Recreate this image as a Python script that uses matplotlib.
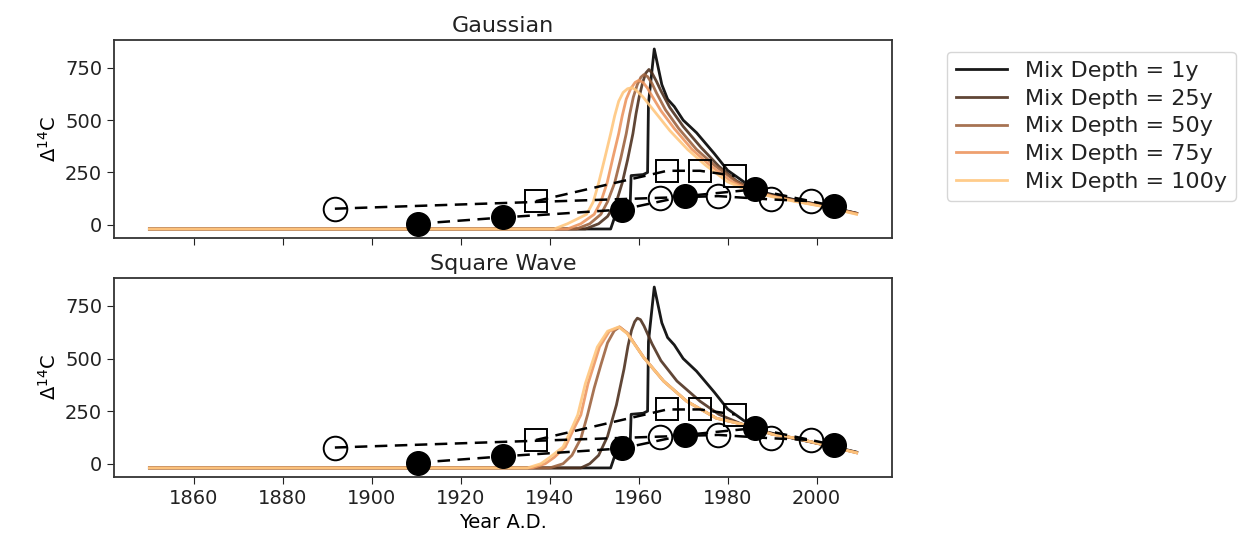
import matplotlib
matplotlib.use("Agg")
import matplotlib.pyplot as plt
import numpy as np

# ---------------- data ----------------
labels = ["Mix Depth = 1y", "Mix Depth = 25y", "Mix Depth = 50y",
          "Mix Depth = 75y", "Mix Depth = 100y"]

# 1y curve (same in both panels)
yr_1y = [1850, 1953.7, 1954.5, 1958.0, 1958.3, 1961.0, 1962.0, 1962.2, 1963.5, 1965.2,
         1966.5, 1968, 1970, 1973, 1977, 1980, 1984, 1988, 1995, 2002, 2009]
v_1y = [-20, -20, 30, 40, 235, 240, 250, 580, 840, 670,
        600, 565, 500, 440, 340, 260, 200, 155, 120, 90, 55]

# Gaussian panel
g_yr_25 = [1850, 1948, 1951, 1953, 1955, 1956.3, 1957.5, 1958.7, 1959.4, 1960.1, 1960.9,
           1961.6, 1962.3, 1963, 1964, 1965, 1967, 1970, 1974, 1978, 1982, 1986, 1990,
           1995, 2002, 2009]
g_v_25 = [-20, -20, 5, 40, 110, 200, 310, 435, 530, 610, 680,
          725, 742, 725, 685, 640, 560, 470, 370, 280, 210, 165, 140,
          118, 88, 55]
g_yr_50 = [1850, 1946, 1949, 1951.5, 1953, 1954.6, 1956, 1957.2, 1958, 1958.8, 1959.7,
           1960.5, 1961.2, 1962, 1963, 1964, 1966, 1969, 1973, 1977, 1982, 1986, 1990,
           1995, 2002, 2009]
g_v_50 = [-20, -20, 5, 50, 110, 200, 320, 435, 530, 610, 670,
          705, 718, 708, 675, 630, 550, 460, 360, 285, 205, 162, 138,
          116, 87, 54]
g_yr_75 = [1850, 1944, 1947, 1950, 1951.5, 1952.9, 1954.2, 1955.5, 1956.3, 1957.2, 1958.2,
           1959.2, 1960, 1961, 1962, 1963, 1965, 1968, 1972, 1976, 1981, 1986, 1990,
           1995, 2002, 2009]
g_v_75 = [-20, -20, 5, 50, 110, 200, 320, 435, 520, 600, 650,
          680, 690, 680, 652, 615, 545, 460, 360, 285, 205, 158, 136,
          114, 86, 52]
g_yr_100 = [1850, 1941, 1944, 1948.3, 1949.8, 1951, 1952.4, 1953.7, 1954.6, 1955.5, 1956.5,
            1957.5, 1958.5, 1959.5, 1961, 1962.5, 1964, 1967, 1971, 1975, 1980, 1985, 1990,
            1995, 2002, 2009]
g_v_100 = [-20, -20, 5, 50, 110, 200, 320, 435, 520, 590, 632,
           650, 655, 642, 610, 570, 530, 450, 360, 285, 205, 160, 134,
           112, 85, 50]

# Square-wave panel
s_yr_25 = [1850, 1947, 1949, 1951, 1953, 1955, 1956.7, 1957.6, 1958.4, 1959.1, 1959.7,
           1960.4, 1961.2, 1963, 1965, 1968.6, 1973.8, 1978, 1983, 1988, 1995, 2002, 2009]
s_v_25 = [-20, -20, 0, 40, 130, 280, 450, 560, 635, 675, 692,
          685, 655, 570, 490, 393, 297, 235, 190, 152, 120, 88, 54]
s_yr_50 = [1850, 1940, 1943, 1945, 1947, 1948.5, 1950, 1951.5, 1953, 1954.5, 1955.7,
           1957.4, 1961.1, 1965.6, 1970.8, 1977.5, 1984, 1990, 1995.4, 2002, 2009]
s_v_50 = [-20, -20, 0, 40, 120, 232, 360, 470, 575, 632, 650,
          622, 506, 393, 297, 216, 184, 140, 121, 88, 52]
s_yr_75 = [1850, 1936, 1939, 1941, 1943.5, 1945.5, 1947, 1948.6, 1951.2, 1953.4, 1955.7,
           1957.5, 1961.1, 1965.6, 1970.8, 1977.5, 1984, 1990, 1995.4, 2002, 2009]
s_v_75 = [-20, -20, 0, 30, 80, 170, 232, 380, 555, 630, 650,
          619, 506, 393, 297, 216, 184, 140, 121, 88, 52]
s_yr_100 = [1850, 1935, 1938, 1940, 1943, 1945, 1946.3, 1948, 1950.7, 1953, 1955.5,
            1957.4, 1961.1, 1965.6, 1970.8, 1977.5, 1984, 1990, 1995.4, 2002, 2009]
s_v_100 = [-20, -20, 0, 30, 80, 170, 232, 380, 555, 630, 650,
           619, 506, 393, 297, 216, 184, 140, 121, 88, 52]

# Observations
open_yr = [1891.7, 1964.9, 1977.9, 1989.8, 1998.8]
open_v = [77, 129, 137, 121, 113]
sq_yr = [1936.9, 1966.4, 1973.8, 1981.6]
sq_v = [113, 258, 258, 234]
fill_yr = [1910.3, 1929.5, 1956.3, 1970.5, 1986.1, 2004.0]
fill_v = [5, 35, 73, 137, 169, 89]

# ---------------- plot ----------------
plt.rcParams['font.family'] = ['DejaVu Sans']
plt.rcParams['text.color'] = '#222222'
plt.rcParams['xtick.color'] = '#222222'
plt.rcParams['ytick.color'] = '#222222'
fig = plt.figure(figsize=(12.42, 5.40), dpi=100)
ax1 = fig.add_axes([0.0918, 0.5593, 0.6264, 0.3667])
ax2 = fig.add_axes([0.0918, 0.1167, 0.6264, 0.3685], sharex=ax1)

cmap = plt.get_cmap('copper')
colors = [cmap(f) for f in (0.0, 0.25, 0.5, 0.75, 1.0)]

panels = [
    (ax1, "Gaussian", [(yr_1y, v_1y), (g_yr_25, g_v_25), (g_yr_50, g_v_50),
                       (g_yr_75, g_v_75), (g_yr_100, g_v_100)]),
    (ax2, "Square Wave", [(yr_1y, v_1y), (s_yr_25, s_v_25), (s_yr_50, s_v_50),
                          (s_yr_75, s_v_75), (s_yr_100, s_v_100)]),
]

for ax, title, curves in panels:
    for (x, y), c, lab in zip(curves, colors, labels):
        ax.plot(x, y, color=c, lw=2.0, label=lab, alpha=0.9)
    ax.plot(open_yr, open_v, 'k--o', mfc='none', mec='black', ms=17, mew=1.4,
            lw=1.8, dashes=(5, 3))
    ax.plot(sq_yr, sq_v, 'k--s', mfc='none', mec='black', ms=16, mew=1.4,
            lw=1.8, dashes=(5, 3))
    ax.plot(fill_yr, fill_v, 'k--o', mfc='black', mec='black', ms=17,
            lw=1.8, dashes=(5, 3))
    ax.set_title(title, fontsize=16)
    ax.set_ylabel("Δ$^{14}$C", fontsize=14)
    ax.set_yticks([0, 250, 500, 750])
    ax.tick_params(labelsize=14, length=5)
    for sp in ax.spines.values():
        sp.set_color('#333333')
        sp.set_linewidth(1.3)

ax1.tick_params(labelbottom=False)
ax2.set_xticks([1860, 1880, 1900, 1920, 1940, 1960, 1980, 2000])
ax2.set_xlabel("Year A.D.", fontsize=14)

handles, labs = ax1.get_legend_handles_labels()
fig.legend(handles[:5], labs[:5], loc='upper left',
           bbox_to_anchor=(947 / 1242, 1 - 52 / 540), borderaxespad=0,
           fontsize=16, handlelength=2.3, handletextpad=0.8,
           labelspacing=0.35, frameon=True)

fig.savefig("out.png", dpi=100)
